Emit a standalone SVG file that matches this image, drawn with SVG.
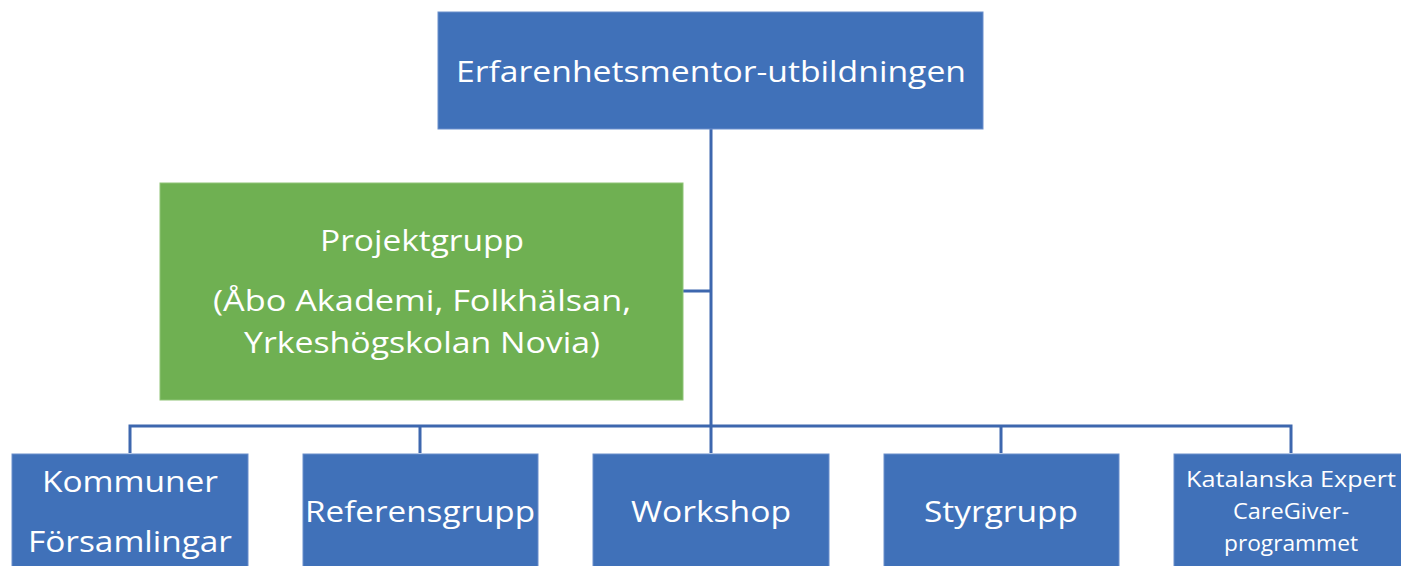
<svg xmlns="http://www.w3.org/2000/svg" width="1401" height="566" viewBox="0 0 1401 566">
<style>
.b{fill:#4071B9;stroke:#6A8FCC;stroke-width:1}
.g{fill:#6FB052;stroke:#8FC476;stroke-width:1}
.t{font-family:"Open Sans","Noto Sans",sans-serif;fill:#fff;text-anchor:middle;font-size:30px}
.s{font-size:22px}
.c{fill:none;stroke:#3D67AE;stroke-width:3}
</style>
<rect width="1401" height="566" fill="#fff"/>
<g id="connectors">
<path class="c" d="M711 129V453M683 291H711M130 426H1291M130 424.5V453M420 424.5V453M1001 424.5V453M1291 424.5V453"/>
</g>
<g id="top"><rect class="b" x="438" y="12" width="545" height="117"/><text class="t" x="711" y="82" textLength="510" lengthAdjust="spacingAndGlyphs">Erfarenhetsmentor-utbildningen</text></g>
<g id="projektgrupp"><rect class="g" x="160" y="183" width="523" height="217"/>
<text class="t" x="422" y="251" textLength="204" lengthAdjust="spacingAndGlyphs">Projektgrupp</text>
<text class="t" x="422" y="311" textLength="418" lengthAdjust="spacingAndGlyphs">(Åbo Akademi, Folkhälsan,</text>
<text class="t" x="422" y="353" textLength="356" lengthAdjust="spacingAndGlyphs">Yrkeshögskolan Novia)</text></g>
<g id="kommuner"><rect class="b" x="12" y="454" width="236" height="120"/>
<text class="t" x="130" y="492" textLength="176" lengthAdjust="spacingAndGlyphs">Kommuner</text>
<text class="t" x="130" y="552" textLength="204" lengthAdjust="spacingAndGlyphs">Församlingar</text></g>
<g id="referensgrupp"><rect class="b" x="303" y="454" width="235" height="120"/>
<text class="t" x="420" y="522" textLength="230" lengthAdjust="spacingAndGlyphs">Referensgrupp</text></g>
<g id="workshop"><rect class="b" x="593" y="454" width="236" height="120"/>
<text class="t" x="711" y="522" textLength="160" lengthAdjust="spacingAndGlyphs">Workshop</text></g>
<g id="styrgrupp"><rect class="b" x="884" y="454" width="235" height="120"/>
<text class="t" x="1001" y="522" textLength="154" lengthAdjust="spacingAndGlyphs">Styrgrupp</text></g>
<g id="katalanska"><rect class="b" x="1174" y="454" width="236" height="120"/>
<text class="t s" x="1291" y="487" textLength="210" lengthAdjust="spacingAndGlyphs">Katalanska Expert</text>
<text class="t s" x="1291" y="519" textLength="116" lengthAdjust="spacingAndGlyphs">CareGiver-</text>
<text class="t s" x="1291" y="551" textLength="134" lengthAdjust="spacingAndGlyphs">programmet</text></g>
</svg>
